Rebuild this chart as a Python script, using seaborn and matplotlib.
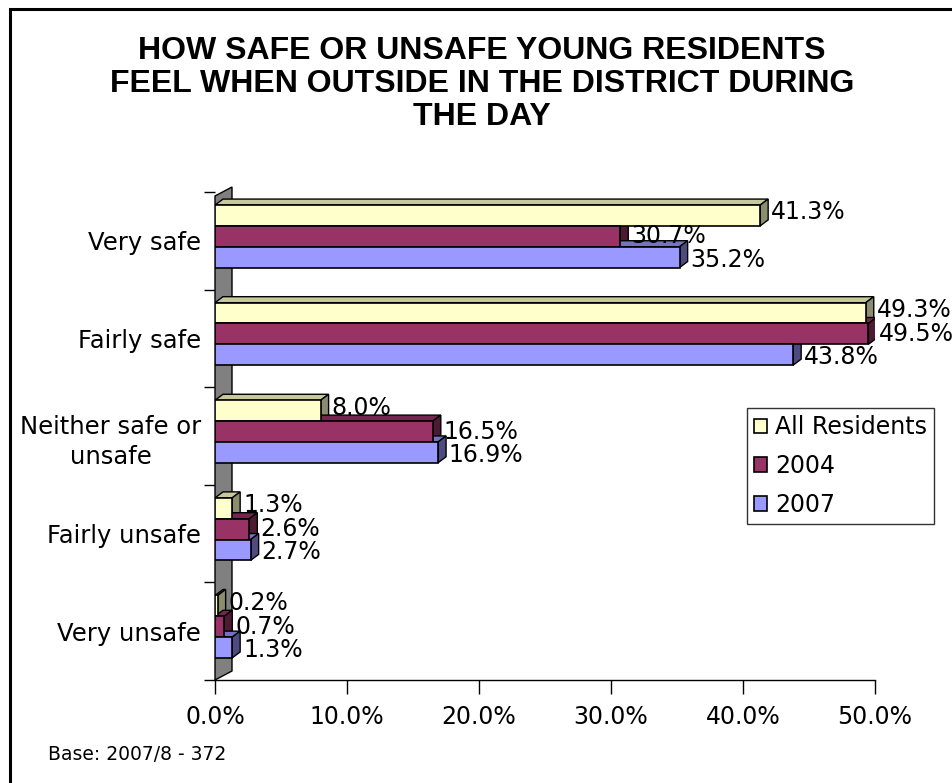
import numpy as np
import pandas as pd
import matplotlib
matplotlib.use("Agg")
import matplotlib.pyplot as plt
from matplotlib.patches import Polygon, Patch, Rectangle
import seaborn as sns

# ---------------- data ----------------
categories = ["Very safe", "Fairly safe", "Neither safe or\nunsafe", "Fairly unsafe", "Very unsafe"]
series = ["All Residents", "2004", "2007"]
all_residents = [41.3, 49.3, 8.0, 1.3, 0.2]
values_2004 = [30.7, 49.5, 16.5, 2.6, 0.7]
values_2007 = [35.2, 43.8, 16.9, 2.7, 1.3]
x_ticks = [0, 10, 20, 30, 40, 50]
x_tick_labels = ["0.0%", "10.0%", "20.0%", "30.0%", "40.0%", "50.0%"]
title = "HOW SAFE OR UNSAFE YOUNG RESIDENTS\nFEEL WHEN OUTSIDE IN THE DISTRICT DURING\nTHE DAY"
footnote = "Base: 2007/8 - 372"

front_colors = ["#FFFFCC", "#993366", "#9999FF"]
top_colors = ["#C8C89E", "#732650", "#7373BF"]
side_colors = ["#8C8C6E", "#4C1A33", "#4C4C80"]

df = pd.DataFrame({
    "Category": categories * 3,
    "Series": [s for s in series for _ in categories],
    "Value": all_residents + values_2004 + values_2007,
})

# ---------------- figure ----------------
sns.set_theme(style="white")
plt.rcParams["font.family"] = ["DejaVu Sans"]
plt.rcParams["text.color"] = "black"
plt.rcParams["xtick.color"] = "black"
plt.rcParams["ytick.color"] = "black"
plt.rcParams["axes.labelcolor"] = "black"

W, H = 952, 783
fig = plt.figure(figsize=(W / 100, H / 100), dpi=100)
fig.patch.set_facecolor("white")

ax_l, ax_r, ax_t, ax_b = 215, 875, 192, 680
ax = fig.add_axes([ax_l / W, 1 - ax_b / H, (ax_r - ax_l) / W, (ax_b - ax_t) / H])
ax.set_facecolor("none")

sns.barplot(data=df, y="Category", x="Value", hue="Series", order=categories,
            hue_order=series, palette=front_colors, saturation=1, orient="h",
            width=0.64, edgecolor="black", linewidth=1.2, legend=False, ax=ax,
            zorder=3)

off = 0.046
ax.set_xlim(0, 50)
ax.set_ylim(4.5 + off, -0.5 + off)

# px -> data conversion
px_x = 50 / (ax_r - ax_l)
px_y = 5 / (ax_b - ax_t)
dx, dy = 8 * px_x, 6 * px_y
label_shift_px = [-3, 0, 2.5]

# 3D faces for bars
for patch in list(ax.patches):
    fc = patch.get_facecolor()
    idx = int(np.argmin([np.sum(np.abs(np.array(matplotlib.colors.to_rgba(c)) - np.array(fc))) for c in front_colors]))
    x0, y0 = patch.get_x(), patch.get_y()
    w, h = patch.get_width(), patch.get_height()
    x1, ytop, ybot = x0 + w, y0, y0 + h
    top = Polygon([(x0, ytop), (x1, ytop), (x1 + dx, ytop - dy), (x0 + dx, ytop - dy)],
                  closed=True, facecolor=top_colors[idx], edgecolor="black", lw=1.0, zorder=2)
    side = Polygon([(x1, ytop), (x1 + dx, ytop - dy), (x1 + dx, ybot - dy), (x1, ybot)],
                   closed=True, facecolor=side_colors[idx], edgecolor="black", lw=1.0, zorder=2)
    ax.add_patch(top)
    ax.add_patch(side)
    ax.annotate(f"{w:.1f}%", xy=(x1 + dx, y0 + h / 2 + label_shift_px[idx] * px_y),
                xytext=(2, 0), textcoords="offset points", va="center", ha="left",
                fontsize=17, color="black", annotation_clip=False, zorder=5)

# side wall
wdx, wdy = 17 * px_x, 9 * px_y
wall = Polygon([(0, 4.5 + off), (0, -0.5 + off + 4 * px_y), (wdx, -0.5 + off + 4 * px_y - wdy),
                (wdx, 4.5 + off - wdy)], closed=True, facecolor="#808080",
               edgecolor="black", lw=1.0, zorder=1, clip_on=False)
ax.add_patch(wall)

# axes styling
for s in ["top", "right", "left"]:
    ax.spines[s].set_visible(False)
ax.spines["bottom"].set_color("black")
ax.spines["bottom"].set_linewidth(1.0)
ax.set_xticks(x_ticks)
ax.set_xticklabels(x_tick_labels, fontsize=17)
ax.tick_params(axis="x", length=10, width=1, color="black", direction="out", pad=8, bottom=True)
ax.set_yticks([i + off for i in range(len(categories))])
ax.set_yticklabels(categories, fontsize=17.5, linespacing=1.33)
for lbl in ax.get_yticklabels():
    lbl.set_multialignment("center")
ax.set_yticks([k - 0.5 + off for k in range(len(categories) + 1)], minor=True)
ax.tick_params(axis="y", which="major", length=0, pad=10, left=True)
ax.tick_params(axis="y", which="minor", length=8, width=1, color="black", direction="out", left=True)
ax.set_xlabel("")
ax.set_ylabel("")
ax.grid(False)

# legend
handles = [Patch(facecolor=c, edgecolor="black", linewidth=1.2) for c in front_colors]
leg = fig.legend(handles, series, loc="upper left", bbox_to_anchor=(747 / W, 1 - 408 / H),
                 fontsize=17, frameon=True, fancybox=False, edgecolor="black",
                 handlelength=0.55, handleheight=0.55, handletextpad=0.35,
                 labelspacing=0.63, borderpad=0.3, borderaxespad=0)
leg.get_frame().set_linewidth(1.0)

# title & footnote
fig.text(482 / W, 1 - 84 / H, title, ha="center", va="center", fontsize=23,
         fontweight="bold", family=["Liberation Sans", "DejaVu Sans"], linespacing=1.15)
fig.text(48 / W, 1 - 755 / H, footnote, ha="left", va="center", fontsize=13.5)

# outer frame (only left and top visible)
fig.add_artist(Rectangle((9.5 / W, -0.1), 1.2, 1.1 - 9.5 / H, transform=fig.transFigure,
                         facecolor="none", edgecolor="black", lw=2.2, clip_on=False))

fig.savefig("out.png", dpi=100, facecolor="white")
